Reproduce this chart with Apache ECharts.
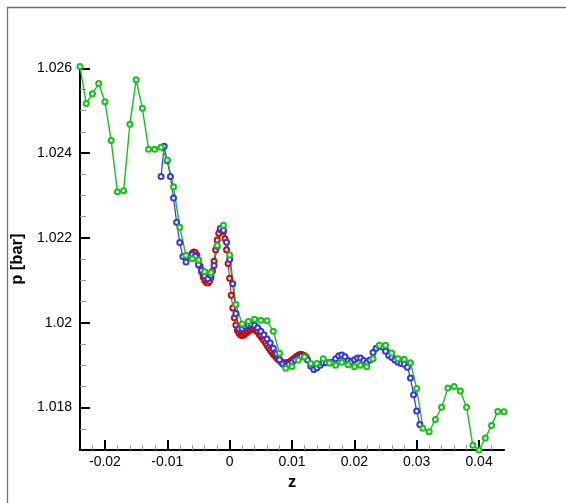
<!DOCTYPE html>
<html><head><meta charset="utf-8">
<script src="https://cdn.jsdelivr.net/npm/echarts@6/dist/echarts.min.js"></script>
<style>html,body{margin:0;padding:0;background:#fff}#c{width:566px;height:503px}</style>
</head><body><div id="c"></div>
<script>
const xTickValues = [-0.02, -0.01, 0, 0.01, 0.02, 0.03, 0.04];
const yTickValues = [1.018, 1.020, 1.022, 1.024, 1.026];

const greenZ = [-0.024,-0.023,-0.022,-0.021,-0.020,-0.019,-0.018,-0.017,-0.016,-0.015,-0.014,-0.013,-0.012,-0.011,-0.010,-0.009,-0.008,-0.007,-0.006,-0.005,-0.004,-0.003,-0.002,-0.001,0.000,0.001,0.002,0.003,0.004,0.005,0.006,0.007,0.008,0.009,0.010,0.011,0.012,0.013,0.014,0.015,0.016,0.017,0.018,0.019,0.020,0.021,0.022,0.023,0.024,0.025,0.026,0.027,0.028,0.029,0.030,0.031,0.032,0.033,0.034,0.035,0.036,0.037,0.038,0.039,0.040,0.041,0.042,0.043,0.044];
const greenP = [1.02604,1.02517,1.02540,1.02564,1.02521,1.02430,1.02309,1.02311,1.02468,1.02573,1.02506,1.02409,1.02409,1.02414,1.02384,1.02321,1.02225,1.02159,1.02151,1.02148,1.02120,1.02118,1.02182,1.02230,1.02160,1.02043,1.01997,1.02003,1.02008,1.02006,1.02005,1.01980,1.01928,1.01893,1.01897,1.01912,1.01919,1.01904,1.01904,1.01915,1.01905,1.01900,1.01907,1.01901,1.01896,1.01900,1.01896,1.01915,1.01947,1.01947,1.01929,1.01915,1.01914,1.01906,1.01845,1.01751,1.01743,1.01772,1.01801,1.01846,1.01850,1.01839,1.01801,1.01711,1.01700,1.01728,1.01758,1.01791,1.01790];

const blueZ = [-0.011,-0.0105,-0.01,-0.0095,-0.009,-0.0085,-0.008,-0.0075,-0.007,-0.0065,-0.006,-0.0055,-0.005,-0.0045,-0.004,-0.0035,-0.003,-0.0025,-0.002,-0.0015,-0.001,-0.0005,0,0.0005,0.001,0.0015,0.002,0.0025,0.003,0.0035,0.004,0.0045,0.005,0.0055,0.006,0.0065,0.007,0.0075,0.008,0.0085,0.009,0.0095,0.01,0.0105,0.011,0.0115,0.012,0.0125,0.013,0.0135,0.014,0.0145,0.015,0.0155,0.016,0.0165,0.017,0.0175,0.018,0.0185,0.019,0.0195,0.02,0.0205,0.021,0.0215,0.022,0.0225,0.023,0.0235,0.024,0.0245,0.025,0.0255,0.026,0.0265,0.027,0.0275,0.028,0.0285,0.029,0.0295,0.03,0.0305];
const blueP = [1.02345,1.02416,1.02382,1.02345,1.02294,1.02237,1.02189,1.02156,1.02143,1.02157,1.02161,1.02157,1.02137,1.02124,1.02110,1.02104,1.02112,1.02135,1.02180,1.02222,1.02218,1.02190,1.02150,1.02092,1.02022,1.01986,1.01986,1.01992,1.01995,1.01996,1.01994,1.01988,1.01980,1.01972,1.01962,1.01952,1.01940,1.01927,1.01913,1.01903,1.01898,1.01902,1.01907,1.01912,1.01916,1.01921,1.01919,1.01912,1.01898,1.01890,1.01894,1.01900,1.01905,1.01906,1.01906,1.01907,1.01915,1.01922,1.01924,1.01920,1.01911,1.01908,1.01913,1.01917,1.01917,1.01911,1.01906,1.01912,1.01930,1.01940,1.01945,1.01943,1.01933,1.01923,1.01918,1.01912,1.01907,1.01904,1.01902,1.01895,1.01870,1.01830,1.01792,1.01760];

const redZ = [-0.00625,-0.006,-0.00575,-0.0055,-0.00525,-0.005,-0.00475,-0.0045,-0.00425,-0.004,-0.00375,-0.0035,-0.00325,-0.003,-0.00275,-0.0025,-0.00225,-0.002,-0.00175,-0.0015,-0.00125,-0.001,-0.00075,-0.0005,-0.00025,0,0.00025,0.0005,0.00075,0.001,0.00125,0.0015,0.00175,0.002,0.00225,0.0025,0.00275,0.003,0.00325,0.0035,0.00375,0.004,0.00425,0.0045,0.00475,0.005,0.00525,0.0055,0.00575,0.006,0.00625,0.0065,0.00675,0.007,0.00725,0.0075,0.00775,0.008,0.00825,0.0085,0.00875,0.009,0.00925,0.0095,0.00975,0.01,0.01025,0.0105,0.01075,0.011,0.01125,0.0115,0.01175,0.012,0.01225];
const redP = [1.02158,1.02164,1.02167,1.02165,1.02159,1.02148,1.02134,1.02120,1.02108,1.02100,1.02095,1.02094,1.02098,1.02106,1.02122,1.02145,1.02172,1.02195,1.02211,1.02220,1.02222,1.02215,1.02198,1.02172,1.02140,1.02105,1.02065,1.02035,1.02012,1.01995,1.01982,1.01975,1.01971,1.01970,1.01971,1.01974,1.01977,1.01980,1.01983,1.01985,1.01986,1.01985,1.01982,1.01978,1.01973,1.01968,1.01963,1.01958,1.01953,1.01947,1.01941,1.01936,1.01931,1.01926,1.01922,1.01918,1.01914,1.01911,1.01908,1.01906,1.01905,1.01905,1.01906,1.01907,1.01909,1.01912,1.01915,1.01918,1.01921,1.01923,1.01925,1.01925,1.01924,1.01922,1.01919];

function pairs(zs, ps) { return zs.map(function (z, i) { return [z, ps[i]]; }); }
function fmt(v) { return String(parseFloat(Number(v).toFixed(5))); }

const FONT = 'Liberation Sans, Arial, sans-serif';
const chart = echarts.init(document.getElementById('c'), null, { renderer: 'canvas' });

function lineSeries(name, data, color, lw) {
  return {
    name: name, type: 'line', data: data,
    symbol: 'emptyCircle', symbolSize: 5, showSymbol: true, showAllSymbol: true,
    clip: false, silent: true,
    lineStyle: { color: color, width: lw },
    itemStyle: { color: color, borderColor: color, borderWidth: 2.1 },
    emphasis: { disabled: true }
  };
}

chart.setOption({
  animation: false,
  backgroundColor: '#fff',
  graphic: [{
    type: 'rect', silent: true, z: -10,
    shape: { x: 7.5, y: 7.5, width: 800, height: 800 },
    style: { fill: 'none', stroke: '#6e6e6e', lineWidth: 1.3 }
  }],
  grid: { left: 80, right: 62, top: 68.3, bottom: 53 },
  xAxis: {
    type: 'value', min: -0.024, max: 0.044, minInterval: 0.01, maxInterval: 0.01,
    name: 'z', nameLocation: 'middle', nameGap: 20,
    nameTextStyle: { fontFamily: FONT, fontWeight: 'bold', fontSize: 16.5, color: '#000' },
    axisLine: { show: true, onZero: false, lineStyle: { color: '#000', width: 2 } },
    axisTick: { show: true, inside: true, length: 10, customValues: xTickValues, lineStyle: { color: '#000', width: 2 } },
    minorTick: { show: true, splitNumber: 5, length: 5, lineStyle: { color: '#999', width: 1 } },
    axisLabel: { customValues: xTickValues, margin: 5, fontFamily: FONT, fontSize: 14, color: '#000', formatter: fmt },
    splitLine: { show: false }, minorSplitLine: { show: false }
  },
  yAxis: {
    type: 'value', min: 1.017, max: 1.026, minInterval: 0.002, maxInterval: 0.002,
    name: 'p [bar]', nameLocation: 'middle', nameGap: 50,
    nameTextStyle: { fontFamily: FONT, fontWeight: 'bold', fontSize: 16.5, color: '#000' },
    axisLine: { show: true, onZero: false, lineStyle: { color: '#000', width: 2 } },
    axisTick: { show: true, inside: true, length: 10, customValues: yTickValues, lineStyle: { color: '#000', width: 2 } },
    minorTick: { show: true, splitNumber: 4, length: 6, lineStyle: { color: '#999', width: 1 } },
    axisLabel: { customValues: yTickValues, margin: 8, fontFamily: FONT, fontSize: 14, color: '#000', formatter: fmt },
    splitLine: { show: false }, minorSplitLine: { show: false }
  },
  series: [
    lineSeries('red', pairs(redZ, redP), '#c80a0a', 1),
    lineSeries('blue', pairs(blueZ, blueP), '#3535e6', 1.2),
    lineSeries('green', pairs(greenZ, greenP), '#14c414', 1.4)
  ]
});
</script>
</body></html>
